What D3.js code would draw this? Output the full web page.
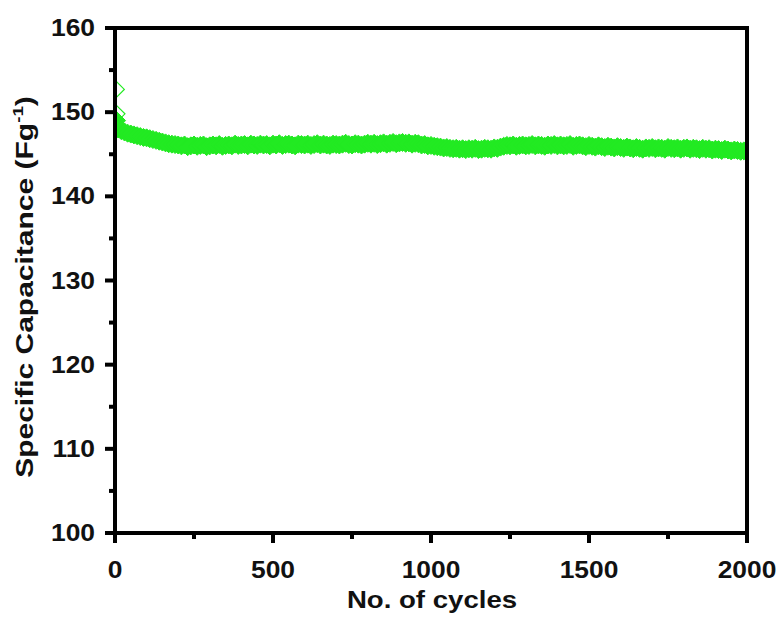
<!DOCTYPE html>
<html><head><meta charset="utf-8">
<script src="https://cdn.jsdelivr.net/npm/d3@7"></script>
<style>body{margin:0;background:#fff}</style>
</head><body><svg id="c" width="780" height="621"></svg>
<script>
// ---- data ----
const cycles = [1, 3, 5, 7].concat(d3.range(10, 2001, 10));
const capacitance = [
  152.7, 149.8, 149.0, 148.4,
  148.0, 147.8, 147.65, 147.5, 147.4, 147.3, 147.2, 147.1, 147.0, 146.95,
  146.85, 146.75, 146.65, 146.55, 146.45, 146.35, 146.25, 146.2, 146.15, 146.1,
  146.0, 146.1, 145.9, 146.0, 146.1, 145.95, 146.05, 146.1, 145.9, 146.0,
  146.1, 146.0, 146.15, 145.95, 146.05, 146.1, 146.0, 146.2, 146.05, 146.1,
  146.15, 146.0, 146.2, 146.1, 146.05, 146.2, 146.1, 146.15, 146.0, 146.2,
  146.1, 146.25, 146.05, 146.15, 146.2, 146.1, 146.0, 146.2, 146.15, 146.1,
  146.2, 146.05, 146.15, 146.25, 146.1, 146.2, 146.1, 146.05, 146.2, 146.15,
  146.1, 146.2, 146.3, 146.15, 146.1, 146.25, 146.2, 146.1, 146.2, 146.3,
  146.2, 146.3, 146.15, 146.25, 146.35, 146.2, 146.3, 146.4, 146.25, 146.35,
  146.4, 146.3, 146.35, 146.2, 146.3, 146.25, 146.1, 146.15, 146.0, 146.05,
  145.95, 145.9, 145.85, 145.75, 145.8, 145.7, 145.65, 145.7, 145.6, 145.65,
  145.55, 145.65, 145.6, 145.7, 145.55, 145.6, 145.7, 145.65, 145.6, 145.75,
  145.7, 145.85, 145.95, 146.05, 146.0, 146.1, 145.95, 146.05, 146.1, 146.0,
  146.05, 146.15, 146.0, 146.1, 146.05, 145.95, 146.1, 146.05, 146.15, 146.0,
  146.1, 146.0, 146.05, 146.15, 145.95, 146.05, 146.1, 146.0, 145.9, 146.05,
  145.95, 145.85, 146.0, 145.9, 145.8, 145.95, 145.85, 145.75, 145.9, 145.8,
  145.7, 145.85, 145.75, 145.65, 145.8, 145.7, 145.6, 145.75, 145.7, 145.8,
  145.65, 145.75, 145.7, 145.6, 145.8, 145.7, 145.65, 145.75, 145.6, 145.7,
  145.75, 145.6, 145.7, 145.65, 145.55, 145.7, 145.6, 145.65, 145.5, 145.6,
  145.55, 145.45, 145.6, 145.5, 145.4, 145.5, 145.45, 145.35, 145.4, 145.25
];
const yTicks = [100, 110, 120, 130, 140, 150, 160];
const yMinor = [105, 115, 125, 135, 145, 155];
const xTicks = [0, 500, 1000, 1500, 2000];
const xMinor = [250, 750, 1250, 1750];
const xTitle = "No. of cycles";

// ---- layout ----
const svg = d3.select("#c");
const L = 115, R = 747, T = 28, B = 533;
const x = d3.scaleLinear().domain([0, 2000]).range([L, R]);
const y = d3.scaleLinear().domain([100, 160]).range([B, T]);
const green = "#22ea22";
const font = "'Liberation Sans', Arial, sans-serif";
const SW = 4;

svg.append("defs").append("clipPath").attr("id", "plot")
  .append("rect").attr("x", L).attr("y", T).attr("width", R - L).attr("height", B - T);

const data = cycles.map((c, i) => ({c, v: capacitance[i], i}));
const r = 9;
const diamond = `M0,${-r}L${r},0L0,${r}L${-r},0Z`;
svg.append("g").attr("clip-path", "url(#plot)")
  .selectAll("path").data(data).join("path")
  .attr("d", diamond)
  .attr("transform", d => `translate(${x(d.c)},${y(d.v)})`)
  .attr("fill", d => d.i < 2 ? "none" : green)
  .attr("stroke", green).attr("stroke-width", d => d.i < 2 ? 1.2 : 1);

// frame
svg.append("rect").attr("x", L).attr("y", T).attr("width", R - L).attr("height", B - T)
  .attr("fill", "none").attr("stroke", "#000").attr("stroke-width", SW);

// ticks
const tk = svg.append("g").attr("stroke", "#000").attr("stroke-width", SW);
tk.selectAll(".ym").data(yTicks).join("line").attr("class", "ym")
  .attr("x1", L - 10).attr("x2", L).attr("y1", d => y(d)).attr("y2", d => y(d));
tk.selectAll(".yn").data(yMinor).join("line").attr("class", "yn")
  .attr("x1", L - 6).attr("x2", L).attr("y1", d => y(d)).attr("y2", d => y(d));
tk.selectAll(".xm").data(xTicks).join("line").attr("class", "xm")
  .attr("y1", B).attr("y2", B + 10).attr("x1", d => x(d)).attr("x2", d => x(d));
tk.selectAll(".xn").data(xMinor).join("line").attr("class", "xn")
  .attr("y1", B).attr("y2", B + 6).attr("x1", d => x(d)).attr("x2", d => x(d));

// tick labels
svg.append("g").selectAll("text").data(yTicks).join("text")
  .attr("transform", d => `translate(95,${y(d) + 8}) scale(1.1,1)`)
  .attr("text-anchor", "end")
  .attr("font-family", font).attr("font-weight", "bold").attr("font-size", 24)
  .attr("fill", "#111").text(d => d);
svg.append("g").selectAll("text").data(xTicks).join("text")
  .attr("transform", d => `translate(${x(d)},578) scale(1.1,1)`)
  .attr("text-anchor", "middle")
  .attr("font-family", font).attr("font-weight", "bold").attr("font-size", 24)
  .attr("fill", "#111").text(d => d);

// titles
svg.append("text")
  .attr("transform", `translate(432,608) scale(1.2,1)`)
  .attr("text-anchor", "middle")
  .attr("font-family", font).attr("font-weight", "bold").attr("font-size", 23)
  .attr("fill", "#111").text(xTitle);
const yt = svg.append("text")
  .attr("transform", `translate(33,287) rotate(-90) scale(1.25,1)`)
  .attr("text-anchor", "middle")
  .attr("font-family", font).attr("font-weight", "bold").attr("font-size", 24)
  .attr("fill", "#111");
yt.append("tspan").text("Specific Capacitance (Fg");
yt.append("tspan").attr("font-size", 15).attr("dy", -10).text("-1");
yt.append("tspan").attr("dy", 10).text(")");
</script>
</body></html>
